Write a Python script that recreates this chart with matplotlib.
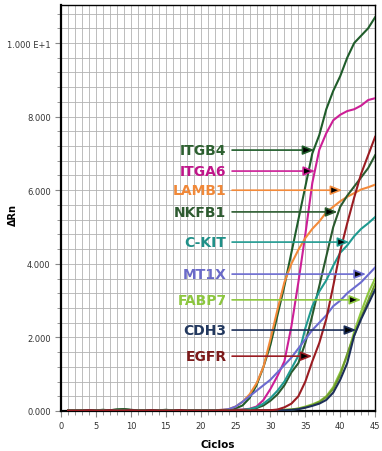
import matplotlib
matplotlib.use("Agg")
import matplotlib.pyplot as plt

# cycles 1..45
cycles = list(range(1, 46))

base20 = [0.01, 0.01, 0.02, 0.01, 0.02, 0.03, 0.02, 0.04, 0.05, 0.03,
          0.02, 0.02, 0.01, 0.02, 0.03, 0.02, 0.01, 0.01, 0.02, 0.01]
flat20 = [0.01, 0.01, 0.01, 0.02, 0.01, 0.01, 0.02, 0.01, 0.01, 0.02,
          0.01, 0.01, 0.02, 0.01, 0.01, 0.01, 0.02, 0.01, 0.01, 0.01]

itgb4 = base20 + [0.01, 0.02, 0.02, 0.03, 0.07, 0.15, 0.35, 0.7, 1.2, 1.8,
                  2.6, 3.4, 4.3, 5.2, 6.1, 7.0, 7.5, 8.2, 8.7, 9.1,
                  9.6, 10.0, 10.2, 10.4, 10.7]
itga6 = flat20 + [0.01, 0.01, 0.02, 0.02, 0.03, 0.04, 0.06, 0.12, 0.3, 0.6,
                  0.95, 1.35, 2.3, 3.5, 4.8, 6.2, 7.1, 7.55, 7.9, 8.05,
                  8.15, 8.2, 8.3, 8.45, 8.5]
lamb1 = flat20 + [0.01, 0.02, 0.03, 0.05, 0.12, 0.25, 0.45, 0.75, 1.2, 1.95,
                  2.75, 3.5, 4.0, 4.38, 4.7, 4.95, 5.15, 5.4, 5.55, 5.7,
                  5.82, 5.92, 6.02, 6.08, 6.15]
nkfb1 = base20 + [0.01, 0.01, 0.02, 0.02, 0.03, 0.03, 0.04, 0.08, 0.15, 0.28,
                  0.45, 0.7, 1.05, 1.3, 1.85, 2.6, 3.4, 4.2, 5.0, 5.55,
                  5.85, 6.1, 6.35, 6.6, 6.95]
ckit = flat20 + [0.01, 0.01, 0.02, 0.02, 0.02, 0.03, 0.05, 0.1, 0.2, 0.35,
                 0.55, 0.8, 1.15, 1.5, 2.25, 2.85, 3.25, 3.55, 3.95, 4.3,
                 4.5, 4.75, 4.95, 5.1, 5.27]
mt1x = flat20 + [0.01, 0.02, 0.03, 0.05, 0.12, 0.25, 0.4, 0.55, 0.7, 0.85,
                 1.05, 1.25, 1.45, 1.7, 1.95, 2.2, 2.4, 2.6, 2.85, 3.0,
                 3.2, 3.35, 3.5, 3.7, 3.9]
fabp7 = flat20 + [0.01, 0.01, 0.02, 0.01, 0.02, 0.01, 0.02, 0.02, 0.01, 0.02,
                  0.02, 0.03, 0.04, 0.07, 0.12, 0.18, 0.26, 0.4, 0.65, 1.05,
                  1.5, 2.15, 2.7, 3.2, 3.6]
fabp7_b = flat20 + [0.01, 0.01, 0.01, 0.02, 0.01, 0.02, 0.01, 0.02, 0.02, 0.02,
                    0.02, 0.03, 0.04, 0.06, 0.1, 0.16, 0.24, 0.38, 0.6, 0.98,
                    1.55, 2.05, 2.55, 3.0, 3.45]
cdh3 = flat20 + [0.01, 0.01, 0.01, 0.01, 0.02, 0.01, 0.01, 0.02, 0.01, 0.02,
                 0.02, 0.02, 0.03, 0.05, 0.09, 0.14, 0.2, 0.3, 0.5, 0.85,
                 1.3, 2.05, 2.5, 2.9, 3.3]
egfr = flat20 + [0.01, 0.01, 0.02, 0.01, 0.02, 0.02, 0.01, 0.02, 0.02, 0.02,
                 0.04, 0.1, 0.2, 0.4, 0.8, 1.35, 1.85, 2.5, 3.4, 4.35,
                 5.1, 5.8, 6.45, 6.95, 7.45]

series = [
    ("ITGB4", itgb4, "#1f5c2a"),
    ("ITGA6", itga6, "#cc1f96"),
    ("LAMB1", lamb1, "#f38a3a"),
    ("NKFB1", nkfb1, "#2a5a2e"),
    ("C-KIT", ckit, "#1f9a90"),
    ("MT1X", mt1x, "#6b6bd0"),
    ("FABP7", fabp7, "#8dc83e"),
    ("", fabp7_b, "#6e9a2c"),
    ("CDH3", cdh3, "#1c2f58"),
    ("EGFR", egfr, "#9a1c22"),
]

# label: (text y value, arrow tip cycle, text colour)
labels = {
    "ITGB4": (7.09, 36.3, "#2d6030"),
    "ITGA6": (6.52, 36.4, "#c0168a"),
    "LAMB1": (6.00, 40.3, "#f08838"),
    "NKFB1": (5.41, 39.6, "#2d5a30"),
    "C-KIT": (4.59, 41.3, "#209088"),
    "MT1X": (3.72, 43.7, "#6a6ac8"),
    "FABP7": (3.02, 43.0, "#8cc63f"),
    "CDH3": (2.20, 42.3, "#23395f"),
    "EGFR": (1.49, 36.0, "#7c1a1a"),
}

ytick_vals = [0, 2, 4, 6, 8, 10]
ytick_text = ["0.000", "2.000", "4.000", "6.000", "8.000", "1.000 E+1"]

fig = plt.figure(figsize=(3.82, 4.52), dpi=100)
ax = fig.add_axes([0.160, 0.0885, 0.822, 0.898])

for name, vals, col in series:
    ax.plot(cycles, vals, color=col, lw=1.5, zorder=3)

for name, (yv, tip, tcol) in labels.items():
    lcol = [c for n, v, c in series if n == name][0]
    ax.annotate(name, xy=(tip, yv), xytext=(23.7, yv),
                ha="right", va="center", fontsize=10, fontweight="bold",
                color=tcol, zorder=5,
                arrowprops=dict(arrowstyle="-|>,head_length=0.7,head_width=0.28",
                                ec=lcol, fc="black", lw=1.2,
                                shrinkA=2, shrinkB=0))

ax.set_xlim(0, 45)
ax.set_ylim(0, 11.03)
ax.set_xticks(range(0, 46, 5))
ax.set_xticks(range(0, 46), minor=True)
ax.set_yticks(ytick_vals)
ax.set_yticklabels(ytick_text)
ax.set_yticks([i * 0.4 for i in range(28)], minor=True)
ax.grid(which="both", color="#b2b2b2", lw=0.6)
ax.set_axisbelow(True)
ax.tick_params(which="both", direction="out", colors="#888888",
               labelcolor="#333333", labelsize=6)
ax.tick_params(which="major", length=4, width=0.8)
ax.tick_params(which="minor", length=3, width=0.6)

for side in ["left", "bottom"]:
    ax.spines[side].set_linewidth(1.6)
for side in ["top", "right"]:
    ax.spines[side].set_linewidth(1.0)

ax.set_xlabel("Ciclos", fontsize=7.5, fontweight="bold", labelpad=6)
fig.text(13 / 382, 1 - 215 / 452, "ΔRn", rotation=90, fontsize=7,
         fontweight="bold", ha="center", va="center")

fig.savefig("out.png", dpi=100)
